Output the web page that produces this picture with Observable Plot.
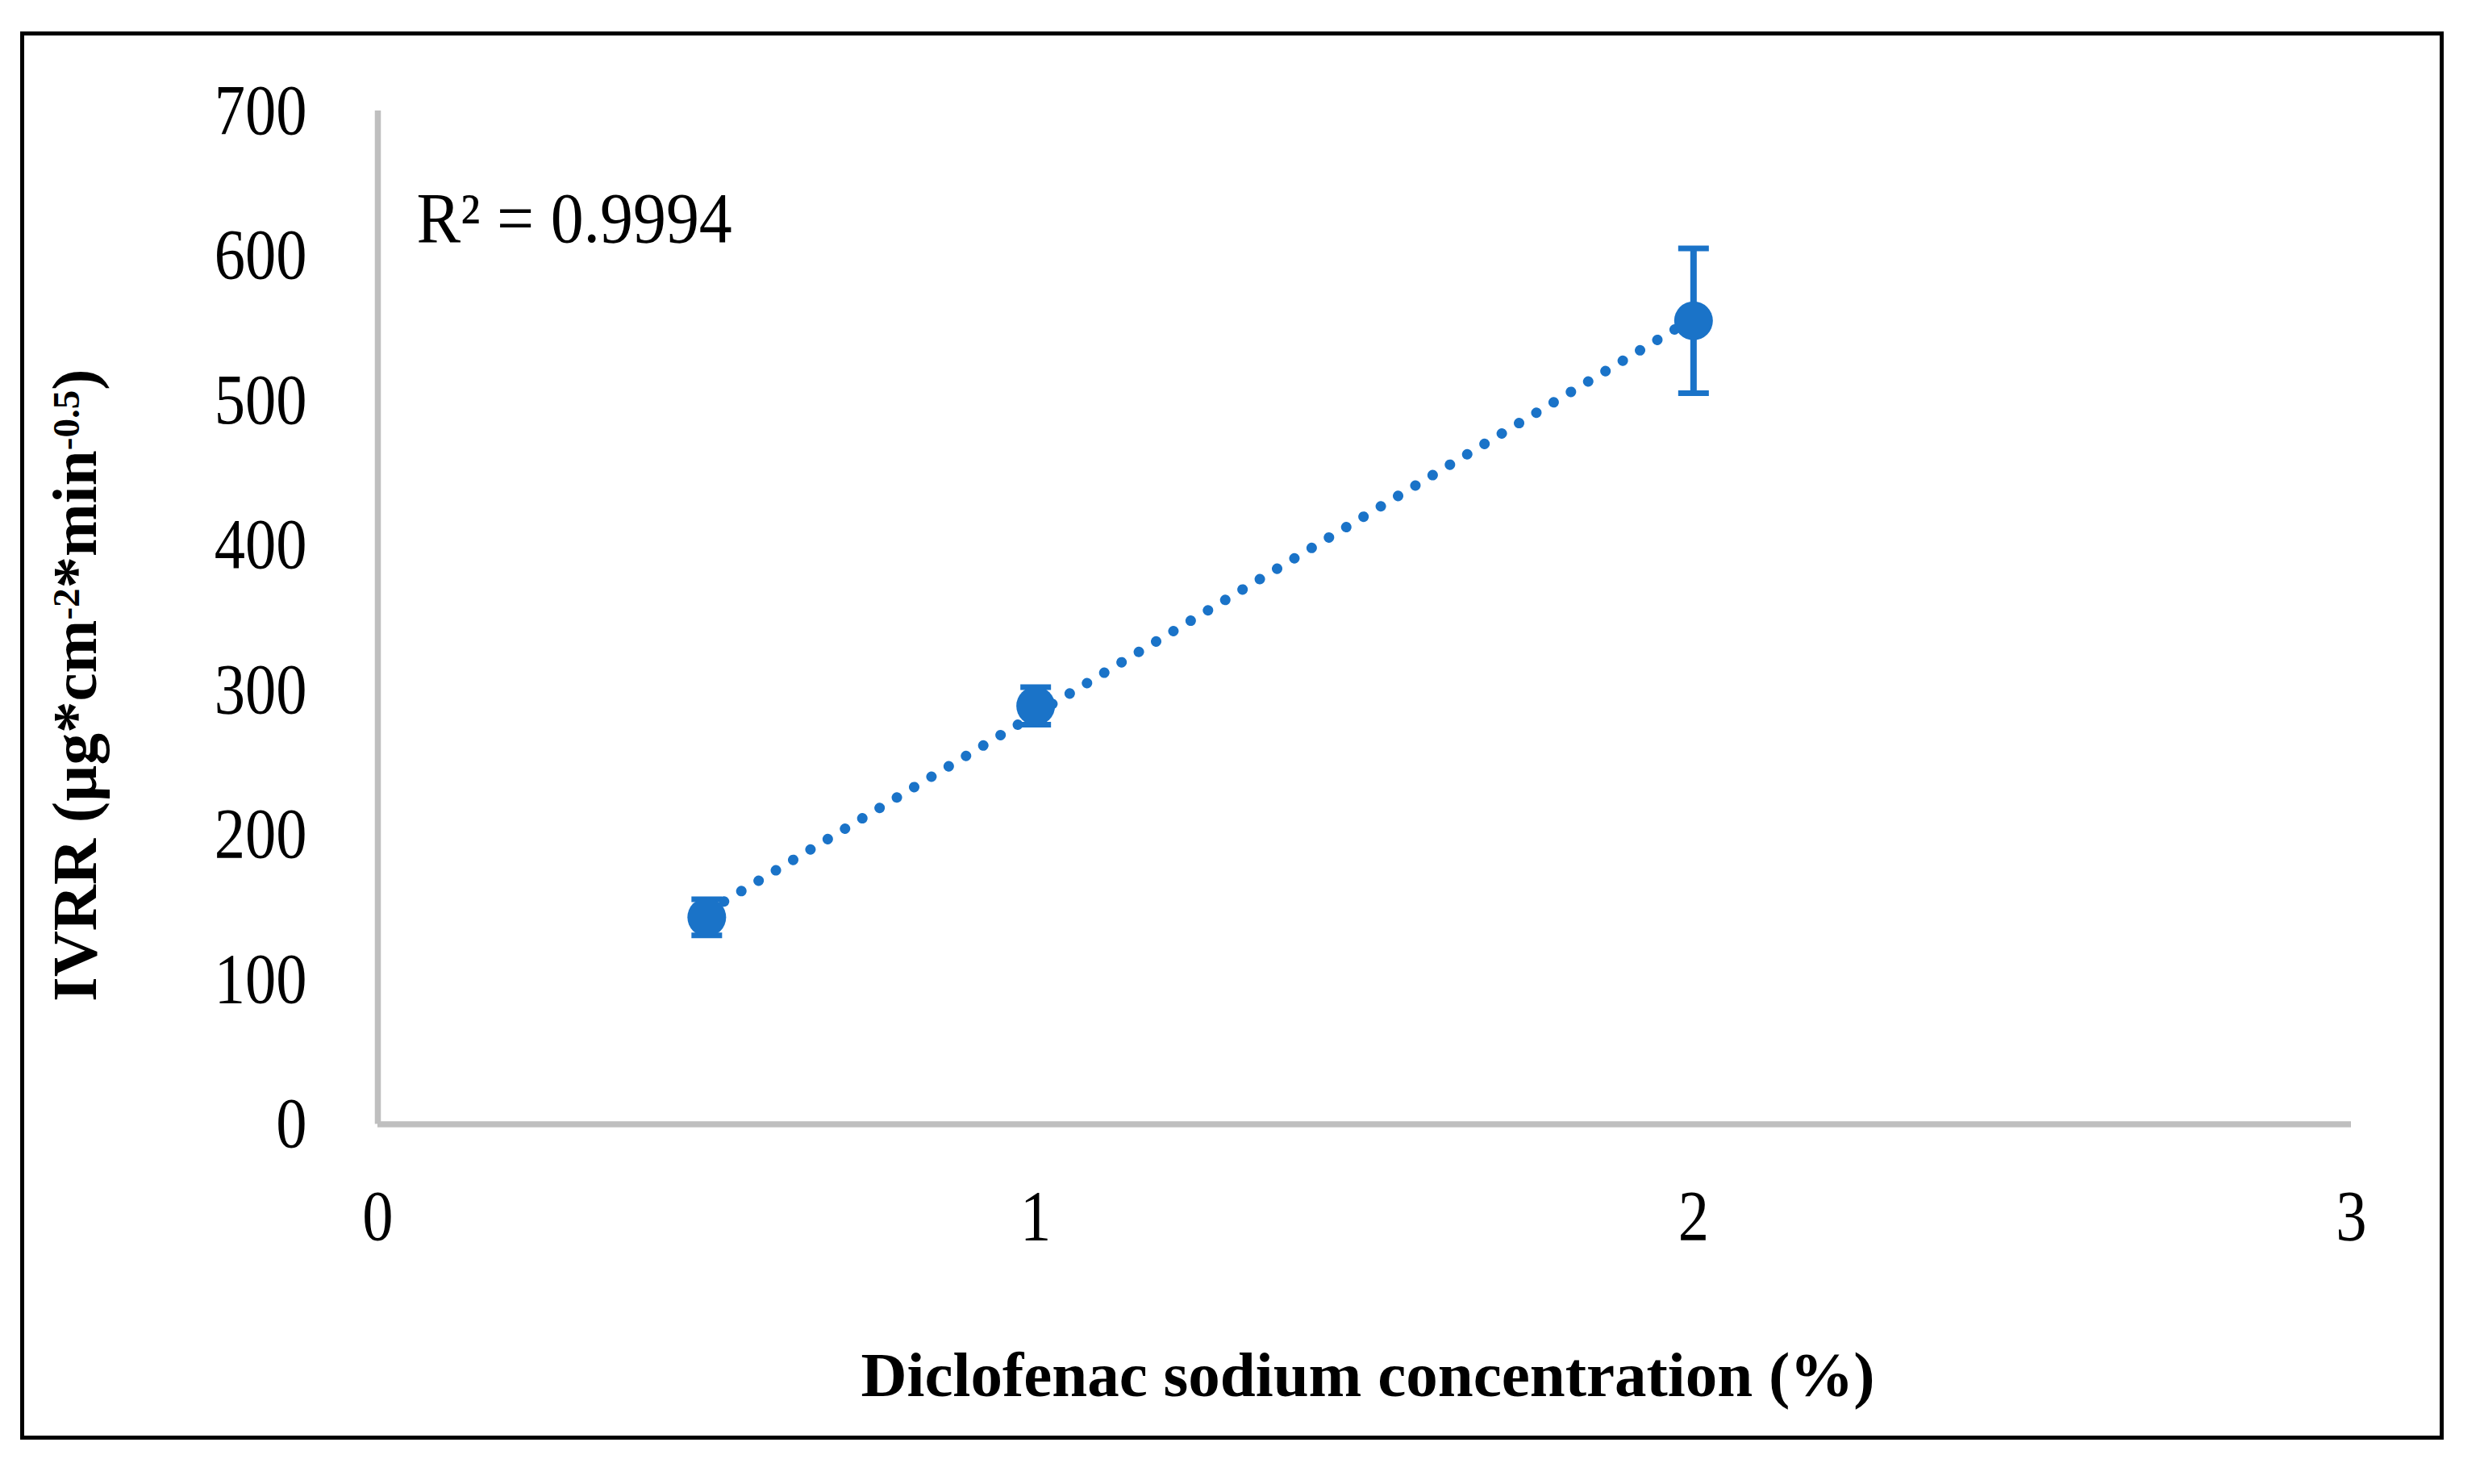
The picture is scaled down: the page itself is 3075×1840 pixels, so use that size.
<!DOCTYPE html>
<html>
<head>
<meta charset="utf-8">
<script src="https://cdn.jsdelivr.net/npm/d3@7"></script>
<script src="https://cdn.jsdelivr.net/npm/@observablehq/plot@0.6"></script>
<style>
  html, body { margin: 0; padding: 0; background: #fff; }
  #wrap { position: relative; width: 3075px; height: 1840px; overflow: hidden; }
  #box { position: absolute; left: 25px; top: 39px; width: 3005px; height: 1746px;
         box-sizing: border-box; border: 5px solid #000; pointer-events: none; }
  #chart svg { display: block; }
</style>
</head>
<body>
<div id="wrap"><div id="chart"></div><div id="box"></div></div>
<script>
// ---- data ----
const concentrations = [0.5, 1, 2];          // Diclofenac sodium concentration (%)
const ivrrValues     = [143, 289, 555];      // IVRR
const ivrrErrors     = [12.5, 13, 50];       // error bar half-lengths
const xTicks = [0, 1, 2, 3];
const yTicks = [0, 100, 200, 300, 400, 500, 600, 700];
const rSquaredLabel = "R² = 0.9994";
const xTitle = "Diclofenac sodium concentration (%)";
const yTitleParts = [
  {t: "IVRR (µg*cm", sup: false},
  {t: "-2", sup: true},
  {t: "*min", sup: false},
  {t: "-0.5", sup: true},
  {t: ")", sup: false}
];

const points = concentrations.map((x, i) => ({x, y: ivrrValues[i], e: ivrrErrors[i]}));

const blue = "#1a73c8";
const gray = "#bfbfbf";
const serif = "'Liberation Serif', 'Times New Roman', serif";
const titleSize = 79;

// horizontal cap symbol for error bars
const capSymbol = {
  draw(context, size) {
    const w = Math.sqrt(size / Math.PI);
    context.moveTo(-w, 0);
    context.lineTo(w, 0);
  }
};

const chart = Plot.plot({
  width: 3075,
  height: 1840,
  marginLeft: 468,
  marginRight: 160,
  marginTop: 137,
  marginBottom: 446.5,
  style: {fontFamily: serif, fontSize: "88px", color: "#000", background: "#fff"},
  x: {domain: [0, 3], ticks: xTicks, tickSize: 0, tickPadding: 81, label: null, tickFormat: d => String(d)},
  y: {domain: [0, 700], ticks: yTicks, tickSize: 0, tickPadding: 88, label: null, tickFormat: d => String(d)},
  marks: [
    Plot.ruleX([0], {stroke: gray, strokeWidth: 7.5}),
    Plot.ruleY([0], {stroke: gray, strokeWidth: 7.5}),
    Plot.ruleX(points, {x: "x", y1: d => d.y - d.e, y2: d => d.y + d.e, stroke: blue, strokeWidth: 8}),
    Plot.dot(points, {x: "x", y: d => d.y + d.e, symbol: capSymbol, r: 19, stroke: blue, fill: "none", strokeWidth: 7}),
    Plot.dot(points, {x: "x", y: d => d.y - d.e, symbol: capSymbol, r: 19, stroke: blue, fill: "none", strokeWidth: 7}),
    Plot.linearRegressionY(points, {x: "x", y: "y", ci: 0, stroke: blue, strokeWidth: 13,
      strokeDasharray: "0.01 25", strokeLinecap: "round"}),
    Plot.dot(points, {x: "x", y: "y", r: 24, fill: blue, stroke: "none"}),
    Plot.text([rSquaredLabel], {text: d => d, frameAnchor: "top-left", textAnchor: "start", lineAnchor: "top",
      dx: 48, dy: 100.5, fontSize: 88, fontFamily: serif, fill: "#000", ariaDescription: "r-squared"}),
    Plot.text([xTitle], {text: d => d, frameAnchor: "bottom", textAnchor: "middle", lineAnchor: "middle",
      dx: 4, dy: 312, fontSize: titleSize, fontWeight: "bold", fontFamily: serif, fill: "#000"}),
    Plot.text([yTitleParts.map(p => p.t).join("")], {text: d => d, frameAnchor: "left", rotate: -90,
      textAnchor: "middle", lineAnchor: "middle", dx: -375, dy: 84, fontSize: titleSize, fontWeight: "bold",
      fontFamily: serif, fill: "#000", ariaDescription: "y-title"})
  ]
});

document.getElementById("chart").appendChild(chart);

// narrow the serif digits like the reference (scale about each text's anchor)
function squeeze(nodes, s) {
  nodes.forEach(t => {
    const tr = t.getAttribute("transform") || "";
    t.setAttribute("transform", (tr + ` scale(${s},1)`).trim());
  });
}
try {
  squeeze(chart.querySelectorAll('g[aria-label="y-axis tick label"] text'), 0.87);
  squeeze(chart.querySelectorAll('g[aria-label="x-axis tick label"] text'), 0.87);
  squeeze(chart.querySelectorAll('g[aria-description="r-squared"] text'), 0.93);

  // superscripts in the y title
  const yt = chart.querySelector('g[aria-description="y-title"] text');
  if (yt) {
    const ns = "http://www.w3.org/2000/svg";
    yt.textContent = "";
    const supSize = Math.round(titleSize * 0.6);
    const supShift = 21;
    yTitleParts.forEach((p, i) => {
      const prevSup = i > 0 && yTitleParts[i - 1].sup;
      const ts = document.createElementNS(ns, "tspan");
      ts.textContent = p.t;
      if (p.sup) { ts.setAttribute("font-size", supSize); ts.setAttribute("dy", -supShift); }
      else if (prevSup) ts.setAttribute("dy", supShift);
      yt.appendChild(ts);
    });
  }
} catch (e) { console.error(e); }
</script>
</body>
</html>
